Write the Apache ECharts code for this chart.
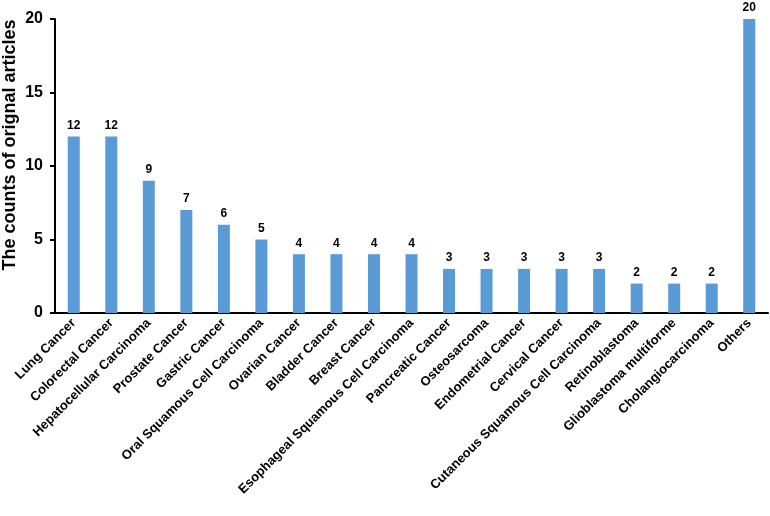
<!DOCTYPE html>
<html><head><meta charset="utf-8">
<script src="https://cdn.jsdelivr.net/npm/echarts@6/dist/echarts.min.js"></script>
<style>html,body{margin:0;padding:0;background:#fff}#c{width:770px;height:516px}</style>
</head><body><div id="c"></div>
<script>
const categories = ["Lung Cancer","Colorectal Cancer","Hepatocellular Carcinoma","Prostate Cancer","Gastric Cancer","Oral Squamous Cell Carcinoma","Ovarian Cancer","Bladder Cancer","Breast Cancer","Esophageal Squamous Cell Carcinoma","Pancreatic Cancer","Osteosarcoma","Endometrial Cancer","Cervical Cancer","Cutaneous Squamous Cell Carcinoma","Retinoblastoma","Glioblastoma multiforme","Cholangiocarcinoma","Others"];
const counts = [12,12,9,7,6,5,4,4,4,4,3,3,3,3,3,2,2,2,20];
const yTicks = [0,5,10,15,20];
const yTitle = 'The counts of orignal articles';
const chart = echarts.init(document.getElementById('c'));
chart.setOption({
  animation:false,
  grid:{left:55,right:2,top:19,bottom:203,outerBoundsMode:'none',containLabel:false},
  graphic:[{type:'text',x:10,y:145,rotation:Math.PI/2,
    style:{text:yTitle,fill:'#000',font:'bold 18px "Liberation Sans", Arial',align:'center',verticalAlign:'middle'}}],
  xAxis:{type:'category',data:categories,
    axisLine:{lineStyle:{color:'#000',width:2}},
    axisTick:{show:false},
    axisLabel:{rotate:45,interval:0,color:'#000',fontFamily:'Arial',fontWeight:'bold',fontSize:13,margin:8}},
  yAxis:{type:'value',min:yTicks[0],max:yTicks[yTicks.length-1],interval:5,
    axisLine:{show:true,lineStyle:{color:'#000',width:2}},
    axisTick:{show:true,length:5,lineStyle:{color:'#000',width:2}},
    splitLine:{show:false},
    axisLabel:{color:'#000',fontFamily:'Arial',fontWeight:'bold',fontSize:16,margin:12}},
  series:[{type:'bar',data:counts,barWidth:12,
    itemStyle:{color:'#5B9BD5'},
    label:{show:true,position:'top',color:'#000',fontFamily:'Liberation Sans Narrow, Arial',fontWeight:'bold',fontSize:12,distance:5}}]
});
</script></body></html>
